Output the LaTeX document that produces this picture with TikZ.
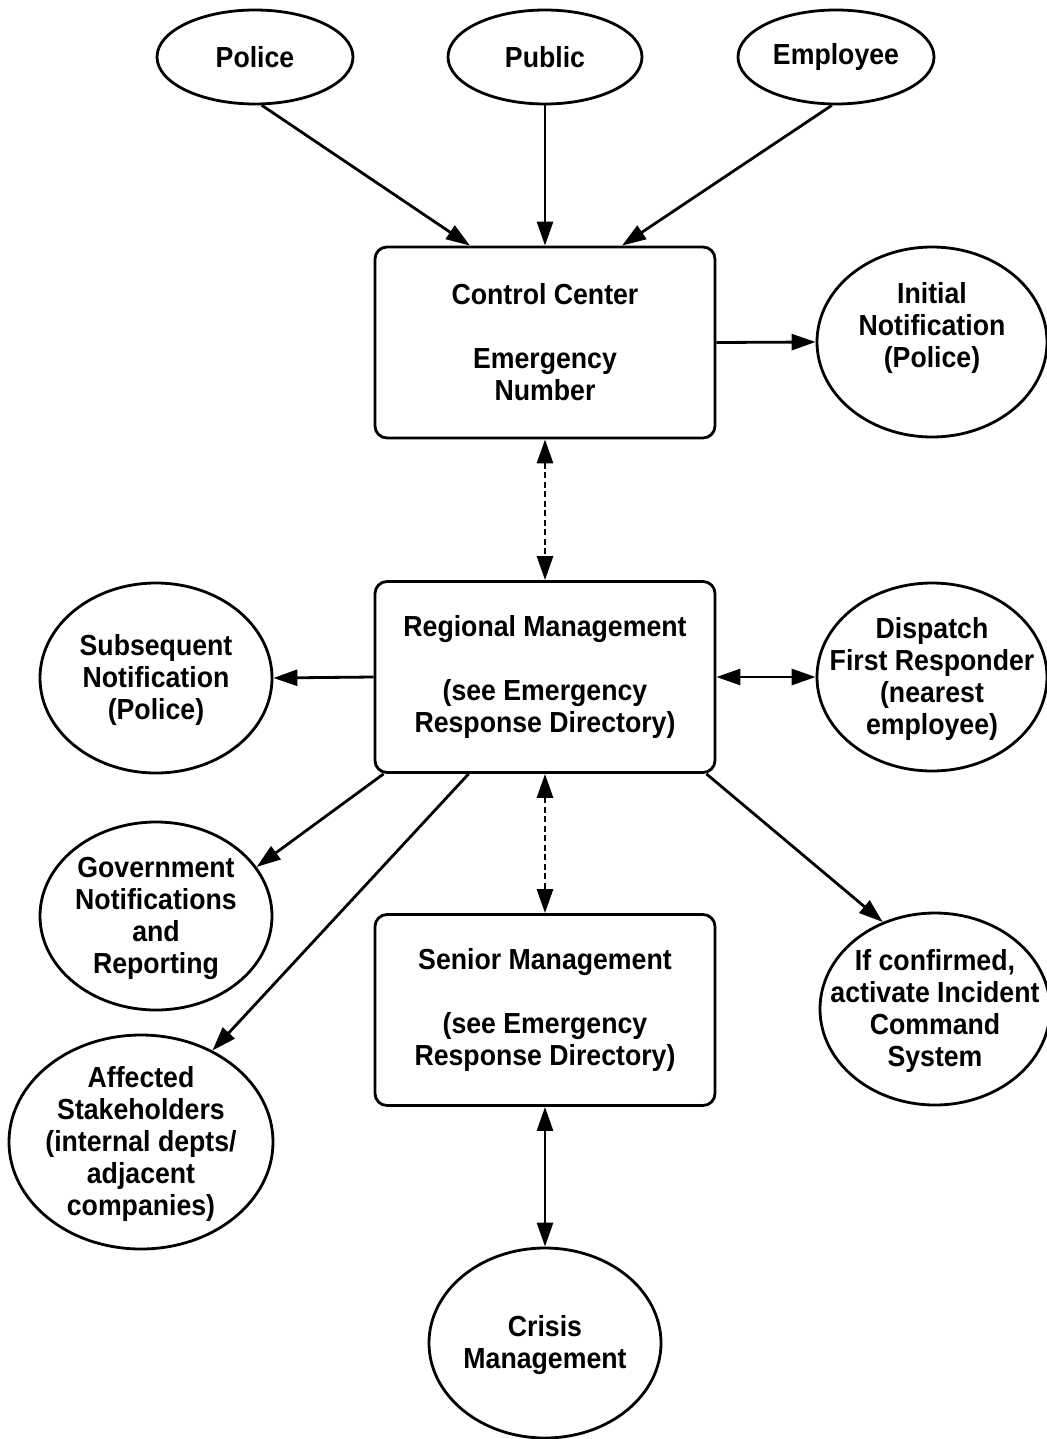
\documentclass[tikz,border=0pt]{standalone}
\usepackage{fontspec}
\setmainfont{Liberation Sans}[FakeStretch=0.92]
\usetikzlibrary{shapes.geometric,arrows.meta}
\begin{document}
\begin{tikzpicture}[x=1pt,y=-1pt,
  txt/.style={font=\fontsize{29}{32}\selectfont\bfseries, align=center, inner sep=0pt},
  ltxt/.style={txt, yshift=-2pt},
  boxnode/.style={txt, draw, line width=2.8pt, rounded corners=12pt,
    minimum width=340pt, minimum height=191pt},
  ell/.style={draw, ellipse, line width=2.8pt, inner sep=0pt},
  arr/.style={line width=2.8pt, -{Triangle[length=24pt,width=16pt]}},
  darr/.style={line width=2.8pt, {Triangle[length=24pt,width=16pt]}-{Triangle[length=24pt,width=16pt]}},
  dotarr/.style={line width=2.8pt, dash pattern=on 6pt off 3.5pt,
    {Triangle[length=24pt,width=16pt]}-{Triangle[length=24pt,width=16pt]}},
]
\useasboundingbox (0,0) rectangle (1046,1439);

% boxes
\node[boxnode] (cc) at (545,342.5) {Control Center\\[32pt]Emergency\\Number};
\node[boxnode] (rm) at (545,677) {Regional Management\\[32pt](see Emergency\\Response Directory)};
\node[boxnode] (sm) at (545,1010) {Senior Management\\[32pt](see Emergency\\Response Directory)};

% ellipses
\node[ell, minimum width=196pt, minimum height=94pt,
  label={[txt]center:Police}] (police) at (255,57) {};
\node[ell, minimum width=194pt, minimum height=94pt,
  label={[txt]center:Public}] (public) at (545,57) {};
\node[ell, minimum width=196pt, minimum height=94pt,
  label={[txt]center:Employee}] (employee) at (836,57) {};
\node[ell, minimum width=230pt, minimum height=190pt,
  label={[txt, yshift=14pt]center:Initial\\Notification\\(Police)}] (init) at (932,342) {};
\node[ell, minimum width=232pt, minimum height=190pt,
  label={[ltxt]center:Subsequent\\Notification\\(Police)}] (subs) at (156,678) {};
\node[ell, minimum width=230pt, minimum height=188pt,
  label={[ltxt]center:Dispatch\\First Responder\\(nearest\\employee)}] (disp) at (932,677) {};
\node[ell, minimum width=232pt, minimum height=188pt,
  label={[ltxt]center:Government\\Notifications\\and\\Reporting}] (gov) at (156,916) {};
\node[ell, minimum width=264pt, minimum height=214pt,
  label={[ltxt]center:Affected\\Stakeholders\\(internal depts/\\adjacent\\companies)}] (aff) at (141,1142) {};
\node[ell, minimum width=230pt, minimum height=192pt,
  label={[ltxt]center:If confirmed,\\activate Incident\\Command\\System}] (ifc) at (935,1009) {};
\node[ell, minimum width=232pt, minimum height=190pt,
  label={[ltxt]center:Crisis\\Management}] (crisis) at (545,1343) {};

% connectors
\draw[arr] (police.-82) -- ([xshift=-75pt]cc.north);
\draw[arr] (public.south) -- (cc.north);
\draw[arr] (employee.-95) -- ([xshift=77pt]cc.north);
\draw[arr] (cc.east) -- (init.west);
\draw[dotarr] (cc.south) -- (rm.north);
\draw[arr] (rm.west) -- (subs.east);
\draw[darr] (rm.east) -- (disp.west);
\draw[arr] ([xshift=10pt]rm.south west) -- (gov.26);
\draw[arr] ([xshift=95pt]rm.south west) -- (aff.52);
\draw[arr] ([xshift=-10pt]rm.south east) -- (ifc.121);
\draw[dotarr] (rm.south) -- (sm.north);
\draw[darr] (sm.south) -- (crisis.north);
\end{tikzpicture}
\end{document}
